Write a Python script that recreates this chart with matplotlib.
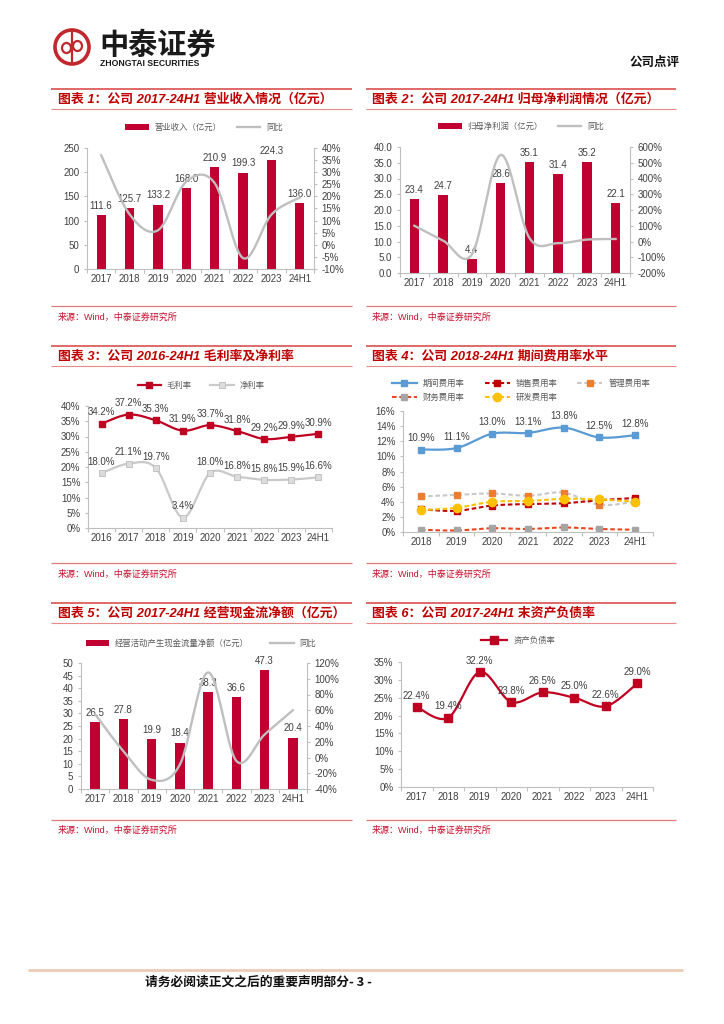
import numpy as np
import matplotlib
matplotlib.use("Agg")
import matplotlib.pyplot as plt
from matplotlib.ticker import FuncFormatter, FixedLocator, NullFormatter
from matplotlib.patches import Circle, Ellipse

plt.rcParams['font.family'] = ['Liberation Sans', 'Noto Sans CJK SC', 'DejaVu Sans']

# ---------------- data ----------------
years8 = ['2017', '2018', '2019', '2020', '2021', '2022', '2023', '24H1']
revenue = [111.6, 125.7, 133.2, 168.0, 210.9, 199.3, 224.3, 136.0]
revenue_yoy = [37.0, 12.6, 6.0, 26.1, 25.5, -5.5, 12.5, 19.5]

net_profit = [23.4, 24.7, 4.4, 28.6, 35.1, 31.4, 35.2, 22.1]
net_profit_yoy = [100.0, 5.6, -82.0, 550.0, 22.7, -10.5, 12.1, 16.0]

years9 = ['2016', '2017', '2018', '2019', '2020', '2021', '2022', '2023', '24H1']
gross_margin = [34.2, 37.2, 35.3, 31.9, 33.7, 31.8, 29.2, 29.9, 30.9]
net_margin = [18.0, 21.1, 19.7, 3.4, 18.0, 16.8, 15.8, 15.9, 16.6]

years7 = ['2018', '2019', '2020', '2021', '2022', '2023', '24H1']
exp_total = [10.9, 11.1, 13.0, 13.1, 13.8, 12.5, 12.8]
exp_sales = [3.0, 2.8, 3.5, 3.7, 3.8, 4.2, 4.5]
exp_admin = [4.7, 4.9, 5.1, 4.8, 5.2, 3.6, 4.0]
exp_fin = [0.3, 0.2, 0.5, 0.4, 0.6, 0.4, 0.3]
exp_rd = [2.9, 3.2, 4.0, 4.1, 4.4, 4.3, 4.0]

cfo = [26.5, 27.8, 19.9, 18.4, 38.3, 36.6, 47.3, 20.4]
cfo_yoy = [55.0, 8.0, -28.4, -9.0, 108.0, -4.4, 29.2, 60.0]

debt_ratio = [22.4, 19.4, 32.2, 23.8, 26.5, 25.0, 22.6, 29.0]

titles = ['图表 1：公司 2017-24H1 营业收入情况（亿元）',
          '图表 2：公司 2017-24H1 归母净利润情况（亿元）',
          '图表 3：公司 2016-24H1 毛利率及净利率',
          '图表 4：公司 2018-24H1 期间费用率水平',
          '图表 5：公司 2017-24H1 经营现金流净额（亿元）',
          '图表 6：公司 2017-24H1 末资产负债率']
source_text = '来源：Wind，中泰证券研究所'

# ---------------- helpers ----------------
W, H = 724, 1024
fig = plt.figure(figsize=(W / 100, H / 100), dpi=100)

def rect(x0, y0, x1, y1):
    return [x0 / W, 1 - y1 / H, (x1 - x0) / W, (y1 - y0) / H]

def fpos(x, y):
    return (x / W, 1 - y / H)

RED = '#C00030'
LINE_RED = '#C00020'
GRAY = '#BFBFBF'
AX = '#BFBFBF'
TXT = '#404040'
FS = 7
NSEG = 24

def smooth(ys):
    xs = np.arange(len(ys), dtype=float)
    P = np.column_stack([xs, np.asarray(ys, float)])
    E = np.vstack([P[0], P, P[-1]])
    out = []
    t = np.linspace(0, 1, NSEG)[:, None]
    for i in range(len(P) - 1):
        p0, p1, p2, p3 = E[i], E[i + 1], E[i + 2], E[i + 3]
        c1 = p1 + (p2 - p0) / 6
        c2 = p2 - (p3 - p1) / 6
        seg = (1 - t) ** 3 * p1 + 3 * (1 - t) ** 2 * t * c1 + 3 * (1 - t) * t ** 2 * c2 + t ** 3 * p2
        out.append(seg if i == 0 else seg[1:])
    S = np.vstack(out)
    marks = [k * (NSEG - 1) for k in range(len(ys))]
    return S[:, 0], S[:, 1], marks

def style_axes(ax, cats):
    n = len(cats)
    ax.set_xlim(-0.5, n - 0.5)
    for s in ['top', 'right']:
        ax.spines[s].set_visible(False)
    for s in ['left', 'bottom']:
        ax.spines[s].set_color(AX)
        ax.spines[s].set_linewidth(0.8)
    ax.xaxis.set_major_locator(FixedLocator(np.arange(-0.5, n, 1.0)))
    ax.xaxis.set_major_formatter(NullFormatter())
    ax.xaxis.set_minor_locator(FixedLocator(np.arange(n)))
    ax.set_xticks(np.arange(n), cats, minor=True)
    ax.tick_params(axis='x', which='major', length=3, color=AX, width=0.8)
    ax.tick_params(axis='x', which='minor', length=0, pad=3.5, labelsize=FS, labelcolor=TXT)
    ax.tick_params(axis='y', length=2.5, color=AX, width=0.8, pad=3, labelsize=FS, labelcolor=TXT)
    ax.set_facecolor('none')

def style_right(ax2):
    for s in ['top', 'left', 'bottom']:
        ax2.spines[s].set_visible(False)
    ax2.spines['right'].set_color(AX)
    ax2.spines['right'].set_linewidth(0.8)
    ax2.tick_params(axis='y', length=2.5, color=AX, width=0.8, pad=3, labelsize=FS, labelcolor=TXT)

pct0 = FuncFormatter(lambda v, p: f'{v:.0f}%')

def legend(ax, handles, labels, cx, cy, ncol, handlelength=2.8, colsp=1.8):
    lg = ax.legend(handles, labels, loc='center', bbox_to_anchor=fpos(cx, cy),
                   bbox_transform=fig.transFigure, ncol=ncol, frameon=False,
                   prop={'family': ['Noto Sans CJK SC'], 'size': 6},
                   handlelength=handlelength, handletextpad=0.7, columnspacing=colsp,
                   borderpad=0, borderaxespad=0, labelspacing=0.6)
    for t in lg.get_texts():
        t.set_color('#595959')
    return lg

def bar_labels(ax, vals, fmt):
    for i, v in enumerate(vals):
        ax.annotate(fmt.format(v), (i, v), xytext=(0, 3), textcoords='offset points',
                    ha='center', va='bottom', fontsize=FS, color=TXT)

def point_labels(ax, vals):
    for i, v in enumerate(vals):
        ax.annotate(f'{v:.1f}%', (i, v), xytext=(0, 4.5), textcoords='offset points',
                    ha='center', va='bottom', fontsize=FS, color=TXT)

# ---------------- page overlay ----------------
ov = fig.add_axes([0, 0, 1, 1])
ov.set_xlim(0, W)
ov.set_ylim(H, 0)
ov.axis('off')

# logo
ov.add_patch(Circle((72, 47), 17, fill=False, ec='#C0282D', lw=2.6))
ov.plot([72, 72], [31, 63], color='#C0282D', lw=1.6)
ov.add_patch(Ellipse((66.5, 48), 9, 10, fill=False, ec='#C0282D', lw=1.6))
ov.add_patch(Ellipse((77.5, 46), 9, 10, fill=False, ec='#C0282D', lw=1.6))
ov.text(99, 45, '中泰证券', fontsize=21, fontweight='bold', family=['Noto Sans CJK SC'],
        color='#1A1A1A', ha='left', va='center')
ov.text(100, 64, 'ZHONGTAI SECURITIES', fontsize=6.2, fontweight='bold',
        color='#1A1A1A', ha='left', va='center')
ov.text(680, 62, '公司点评', fontsize=9, fontweight='bold', family=['Noto Sans CJK SC'],
        color='#111111', ha='right', va='center')

cols = [(51, 352, 58), (366, 676, 372)]
rows = [(88.5, 99, 108.5, 306, 317.5), (345.7, 356.7, 365.7, 563, 574), (602.7, 613.3, 622.7, 820, 830.5)]
k = 0
for r in rows:
    for (x0, x1, xt) in cols:
        ov.plot([x0, x1], [r[0], r[0]], color='#E06868', lw=1.4, solid_capstyle='butt')
        ov.plot([x0, x1], [r[2], r[2]], color='#E88A8A', lw=0.8, solid_capstyle='butt')
        ov.text(xt, r[1], titles[k], fontsize=9.3, fontweight='bold', style='italic',
                family=['Liberation Sans', 'Noto Sans CJK SC'], color='#C00000',
                ha='left', va='center')
        ov.plot([x0, x1], [r[3], r[3]], color='#E07878', lw=0.9, solid_capstyle='butt')
        ov.text(xt, r[4], source_text, fontsize=6.5, family=['Liberation Sans', 'Noto Sans CJK SC'],
                color='#C8102E', ha='left', va='center')
        k += 1

ov.plot([28, 683], [969.5, 969.5], color='#ECCBB4', lw=2.0, solid_capstyle='butt')
ov.text(145, 982, '请务必阅读正文之后的重要声明部分- 3 -', fontsize=9.2, fontweight='bold',
        family=['Noto Sans CJK SC', 'Liberation Sans'], color='#111111', ha='left', va='center')

x8 = np.arange(len(years8))

# ---------------- chart 1 ----------------
ax = fig.add_axes(rect(87, 148, 314, 269))
style_axes(ax, years8)
b = ax.bar(x8, revenue, width=0.33, color=RED, zorder=2)
ax.set_ylim(0, 250)
ax.set_yticks(np.arange(0, 251, 50))
bar_labels(ax, revenue, '{:.1f}')
ax2 = ax.twinx()
style_right(ax2)
sx, sy, mk = smooth(revenue_yoy)
l, = ax2.plot(sx, sy, color=GRAY, lw=1.7)
ax2.set_ylim(-10, 40)
ax2.set_yticks(np.arange(-10, 41, 5))
ax2.yaxis.set_major_formatter(pct0)
legend(ax2, [b, l], ['营业收入（亿元）', '同比'], 204, 127, 2)

# ---------------- chart 2 ----------------
ax = fig.add_axes(rect(400, 147, 630, 273))
style_axes(ax, years8)
b = ax.bar(x8, net_profit, width=0.33, color=RED, zorder=2)
ax.set_ylim(0, 40)
ax.set_yticks(np.arange(0, 41, 5))
ax.yaxis.set_major_formatter(FuncFormatter(lambda v, p: f'{v:.1f}'))
bar_labels(ax, net_profit, '{:.1f}')
ax2 = ax.twinx()
style_right(ax2)
sx, sy, mk = smooth(net_profit_yoy)
l, = ax2.plot(sx, sy, color=GRAY, lw=1.7)
ax2.set_ylim(-200, 600)
ax2.set_yticks(np.arange(-200, 601, 100))
ax2.yaxis.set_major_formatter(pct0)
legend(ax2, [b, l], ['归母净利润（亿元）', '同比'], 521, 126, 2)

# ---------------- chart 3 ----------------
ax = fig.add_axes(rect(88, 406, 332, 528))
style_axes(ax, years9)
sx, sy, mk = smooth(gross_margin)
lg1, = ax.plot(sx, sy, color=LINE_RED, lw=1.6, marker='s', markevery=mk, ms=5,
               mfc=LINE_RED, mec=LINE_RED)
sx, sy, mk = smooth(net_margin)
lg2, = ax.plot(sx, sy, color='#C9C9C9', lw=1.6, marker='s', markevery=mk, ms=5,
               mfc='#DCDCDC', mec='#BDBDBD', mew=0.6)
ax.set_ylim(0, 40)
ax.set_yticks(np.arange(0, 41, 5))
ax.yaxis.set_major_formatter(pct0)
point_labels(ax, gross_margin)
point_labels(ax, net_margin)
legend(ax, [lg1, lg2], ['毛利率', '净利率'], 201, 385.7, 2, handlelength=2.8, colsp=2.2)

# ---------------- chart 4 ----------------
ax = fig.add_axes(rect(403, 411, 653, 532))
style_axes(ax, years7)
dash = (0, (2.2, 1.3))
sx, sy, mk = smooth(exp_total)
h1, = ax.plot(sx, sy, color='#5B9BD5', lw=1.6, marker='s', markevery=mk, ms=5,
              mfc='#5B9BD5', mec='#5B9BD5')
sx, sy, mk = smooth(exp_admin)
h3, = ax.plot(sx, sy, color='#C8C8C8', lw=1.5, ls=dash, marker='s', markevery=mk, ms=5,
              mfc='#ED7D31', mec='#ED7D31')
sx, sy, mk = smooth(exp_fin)
h4, = ax.plot(sx, sy, color='#E8481E', lw=1.5, ls=dash, marker='s', markevery=mk, ms=5,
              mfc='#A5A5A5', mec='#A5A5A5')
sx, sy, mk = smooth(exp_sales)
h2, = ax.plot(sx, sy, color='#C00000', lw=1.5, ls=dash, marker='s', markevery=mk, ms=5,
              mfc='#C00000', mec='#C00000')
sx, sy, mk = smooth(exp_rd)
h5, = ax.plot(sx, sy, color='#FFC000', lw=1.5, ls=dash, marker='o', markevery=mk, ms=6,
              mfc='#FFC000', mec='#FFC000')
ax.set_ylim(0, 16)
ax.set_yticks(np.arange(0, 17, 2))
ax.yaxis.set_major_formatter(pct0)
point_labels(ax, exp_total)
legend(ax, [h1, h4, h2, h5, h3], ['期间费用率', '财务费用率', '销售费用率', '研发费用率', '管理费用率'],
       521, 390, 3, handlelength=3.0, colsp=2.4)

# ---------------- chart 5 ----------------
ax = fig.add_axes(rect(81, 663, 307, 789))
style_axes(ax, years8)
b = ax.bar(x8, cfo, width=0.33, color=RED, zorder=2)
ax.set_ylim(0, 50)
ax.set_yticks(np.arange(0, 51, 5))
bar_labels(ax, cfo, '{:.1f}')
ax2 = ax.twinx()
style_right(ax2)
sx, sy, mk = smooth(cfo_yoy)
l, = ax2.plot(sx, sy, color=GRAY, lw=1.7)
ax2.set_ylim(-40, 120)
ax2.set_yticks(np.arange(-40, 121, 20))
ax2.yaxis.set_major_formatter(pct0)
legend(ax2, [b, l], ['经营活动产生现金流量净额（亿元）', '同比'], 201, 643, 2, colsp=2.6)

# ---------------- chart 6 ----------------
ax = fig.add_axes(rect(401, 662, 653, 787))
style_axes(ax, years8)
sx, sy, mk = smooth(debt_ratio)
h, = ax.plot(sx, sy, color=LINE_RED, lw=1.6, marker='s', markevery=mk, ms=5.5,
             mfc=LINE_RED, mec=LINE_RED)
ax.set_ylim(0, 35)
ax.set_yticks(np.arange(0, 36, 5))
ax.yaxis.set_major_formatter(pct0)
point_labels(ax, debt_ratio)
legend(ax, [h], ['资产负债率'], 518, 640, 1, handlelength=3.2)

fig.savefig('out.png', dpi=100)
